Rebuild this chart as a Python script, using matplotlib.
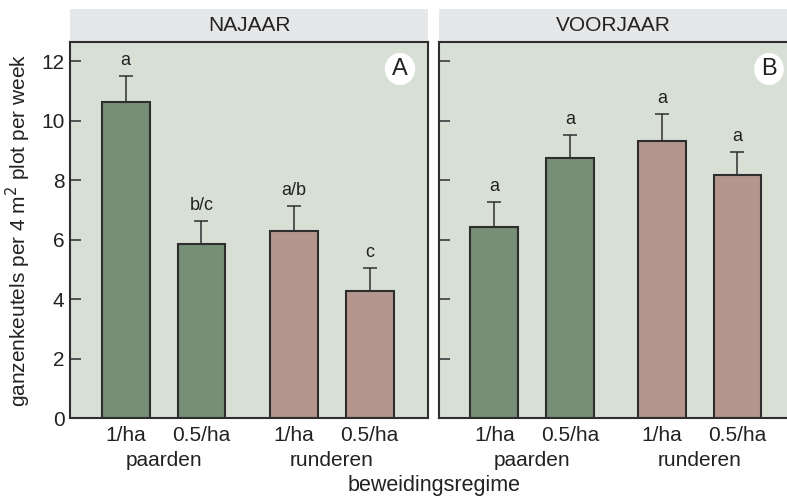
import matplotlib
matplotlib.use('Agg')
import matplotlib.pyplot as plt
from matplotlib.patches import Rectangle, Circle

plt.rcParams['font.family'] = ['Liberation Sans', 'DejaVu Sans']

seasons = ['NAJAAR', 'VOORJAAR']
panel_tags = ['A', 'B']
density = ['1/ha', '0.5/ha', '1/ha', '0.5/ha']
animals = ['paarden', 'runderen']

# mean droppings and upper error per treatment, per season
means = {
    'NAJAAR': [10.61, 5.84, 6.27, 4.27],
    'VOORJAAR': [6.42, 8.74, 9.31, 8.17],
}
errors = {
    'NAJAAR': [0.90, 0.77, 0.87, 0.77],
    'VOORJAAR': [0.85, 0.78, 0.90, 0.76],
}
letters = {
    'NAJAAR': ['a', 'b/c', 'a/b', 'c'],
    'VOORJAAR': ['a', 'a', 'a', 'a'],
}

green = '#778f77'
pink = '#b5968e'
bar_colors = [green, green, pink, pink]
panel_bg = '#d8dfd4'
strip_bg = '#e6e7e8'
edge = '#2e2e2e'
ink = '#222222'

xpos = [0, 1, 2.22, 3.22]
group_x = [0.5, 2.72]

fig = plt.figure(figsize=(7.87, 4.97), dpi=100)
W, H = 787, 497
bottom, top = 418, 42
axes_px = [(70, 428), (439, 787)]
xlims = [(-0.735, 3.99), (-0.732, 3.877)]

for i, season in enumerate(seasons):
    x0, x1 = axes_px[i]
    ax = fig.add_axes([x0 / W, (H - bottom) / H, (x1 - x0) / W, (bottom - top) / H])
    ax.set_facecolor(panel_bg)
    ax.bar(xpos, means[season], width=0.632, color=bar_colors,
           edgecolor=edge, linewidth=1.5, zorder=2)
    ax.errorbar(xpos, means[season], yerr=[[0] * 4, errors[season]],
                fmt='none', ecolor=edge, elinewidth=1.1, capsize=5,
                capthick=1.1, zorder=1)
    for x, m, e, lab in zip(xpos, means[season], errors[season], letters[season]):
        ax.annotate(lab, (x, m + e), xytext=(0, 5), textcoords='offset points',
                    ha='center', va='bottom', fontsize=13, color=ink)

    ax.set_xlim(*xlims[i])
    ax.set_ylim(0, 12.64)
    ax.set_yticks([0, 2, 4, 6, 8, 10, 12])
    ax.tick_params(axis='y', direction='in', length=8, width=1.1, color=edge,
                   labelsize=15, pad=4, labelcolor=ink)
    ax.set_xticks(xpos)
    ax.set_xticklabels(density)
    ax.tick_params(axis='x', length=0, labelsize=15, pad=6, labelcolor=ink)
    if i == 1:
        ax.set_yticklabels([])
        ax.spines['right'].set_visible(False)
    for side in ['left', 'bottom', 'top', 'right']:
        ax.spines[side].set_color(edge)
        ax.spines[side].set_linewidth(1.5)

    for gx, name in zip(group_x, animals):
        ax.text(gx, -(460 - bottom) / (bottom - top), name,
                transform=ax.get_xaxis_transform(),
                ha='center', va='center', fontsize=15, color=ink)

    # season strip above the panel
    strip_h = 33 / (bottom - top)
    ax.add_patch(Rectangle((0, 1), 1, strip_h, transform=ax.transAxes,
                           facecolor=strip_bg, edgecolor='none', clip_on=False))
    ax.text(0.5, 1 + strip_h / 2, season, transform=ax.transAxes,
            ha='center', va='center', fontsize=15, color=ink)

    # panel tag in a white disc
    cx = (400 if i == 0 else 769) - x0
    cy = bottom - 69
    ax.add_patch(Circle((cx / (x1 - x0), cy / (bottom - top)), 16 / (bottom - top),
                        transform=ax.transAxes, facecolor='white',
                        edgecolor='none', zorder=3))
    ax.text(cx / (x1 - x0), cy / (bottom - top), panel_tags[i],
            transform=ax.transAxes, ha='center', va='center', fontsize=17,
            color=ink, zorder=4)
    if i == 0:
        ax.set_ylabel('ganzenkeutels per 4 m$^2$ plot per week', fontsize=15,
                      color=ink, labelpad=6)

fig.text(434 / W, 1 - 485 / H, 'beweidingsregime', ha='center', va='center',
         fontsize=15.5, color=ink)

fig.savefig('out.png', dpi=100)
